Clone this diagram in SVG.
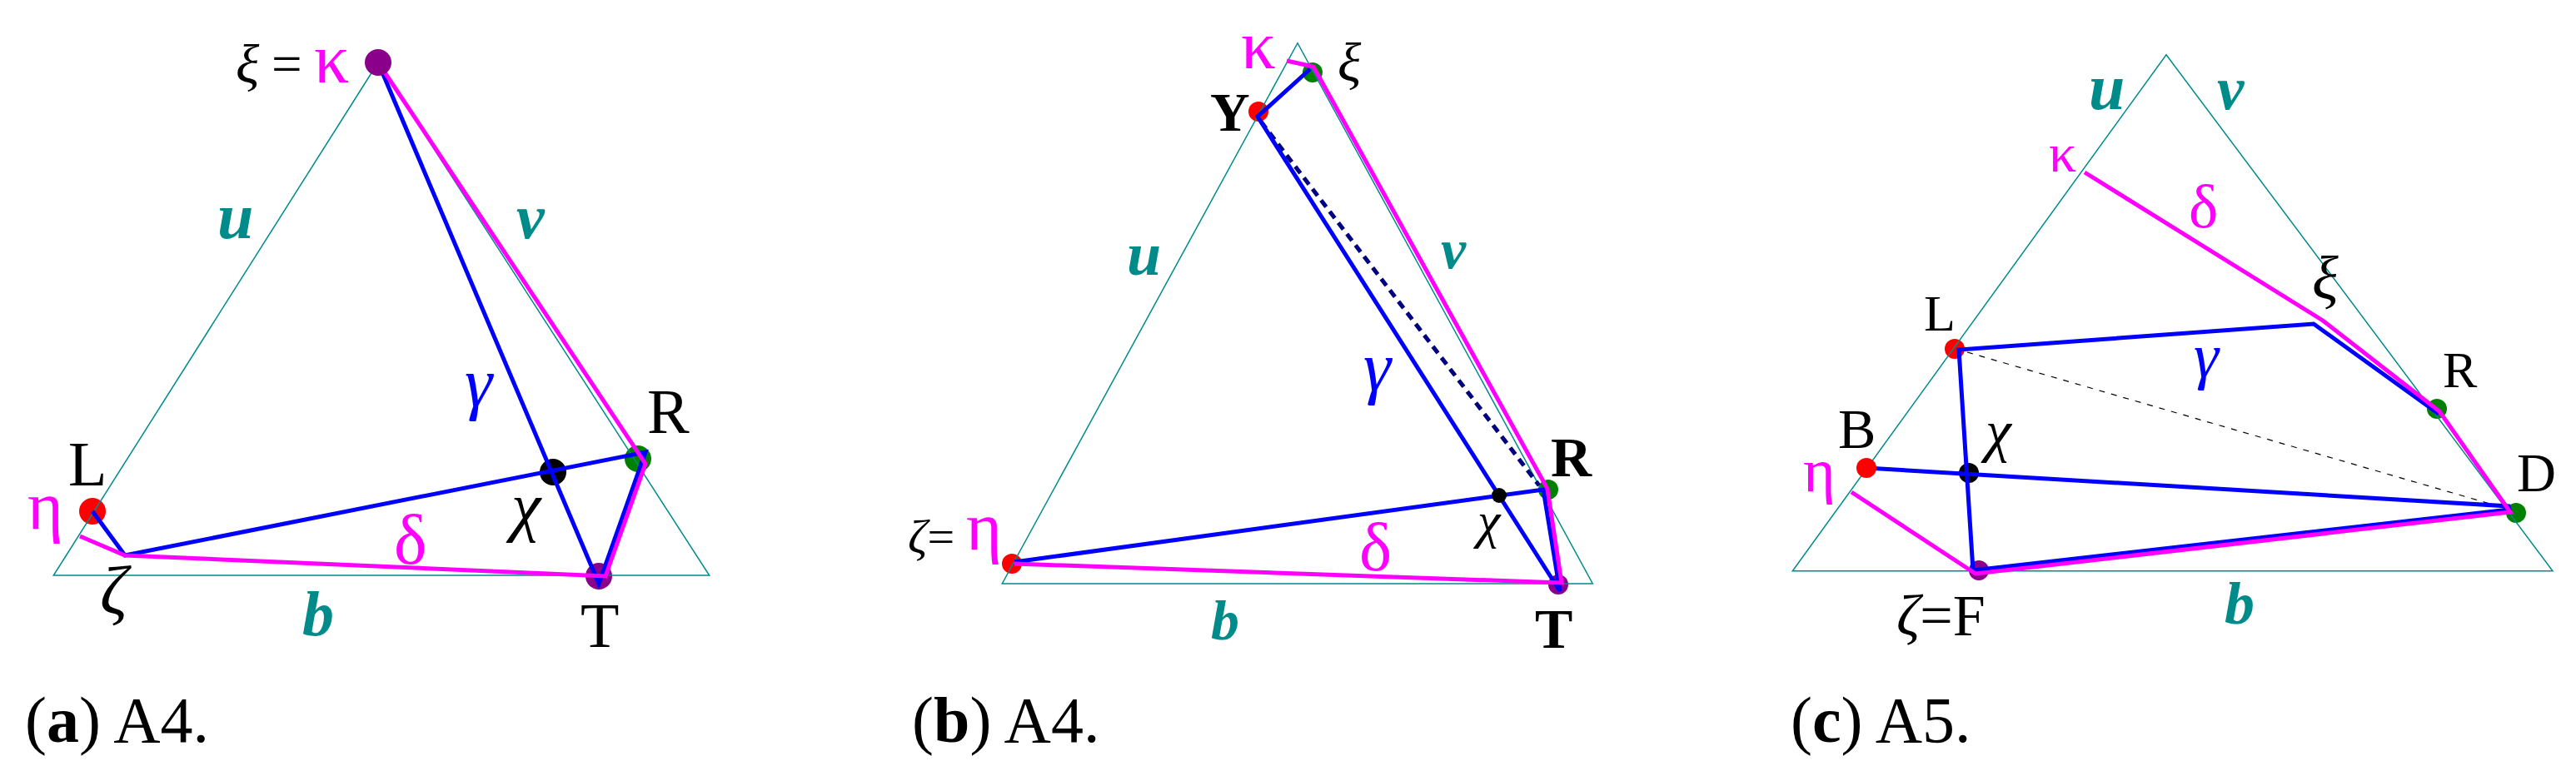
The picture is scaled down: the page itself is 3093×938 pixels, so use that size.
<svg xmlns="http://www.w3.org/2000/svg" width="3093" height="938" viewBox="0 0 3093 938">
<style>
text{font-family:"Liberation Serif","Times New Roman",serif;}
.tri{fill:none;stroke:#008B8B;stroke-width:1.5;stroke-linejoin:miter}
.bl{fill:none;stroke:#0000FF;stroke-width:5;stroke-linejoin:miter}
.pk{fill:none;stroke:#FF00FF;stroke-width:5;stroke-linejoin:miter}
.nv{fill:none;stroke:#000080;stroke-width:5;stroke-dasharray:10 7}
.dk{fill:none;stroke:#000000;stroke-width:1.2;stroke-dasharray:7 8}
.k{fill:#000000}
.m{fill:#FF00FF}
.b{fill:#0000FF}
.i{font-style:italic}
.t{fill:#008B8B;font-weight:bold;font-style:italic}
.bd{font-weight:bold}
.red{fill:#FF0000}.grn{fill:#008000}.pur{fill:#8B008B}.blk{fill:#000000}
</style>

<!-- Panel (a) -->
<g id="panel-a">
  <g id="a-dots-under">
    <circle id="a-L" class="red" cx="111" cy="614" r="16"/>
    <circle id="a-chi" class="blk" cx="664" cy="567" r="16"/>
    <circle id="a-R" class="grn" cx="766" cy="551" r="16"/>
    <circle id="a-T" class="pur" cx="719" cy="692" r="16"/>
  </g>
  <polygon id="a-triangle" class="tri" points="64.3,691 851.7,691 454,75"/>
  <g id="a-connectors">
    <polyline class="bl" points="454,75 719,701 775,543 150,667 111,614"/>
    <polyline class="pk" points="454,75 775,557 727,692 150,667 96,644"/>
  </g>
  <circle id="a-kappa" class="pur" cx="454" cy="75" r="16"/>
  <g id="a-labels">
    <text x="283" y="99" font-size="66" class="k i">ξ</text>
    <text x="326" y="99" font-size="65" class="k">=</text>
    <text x="377" y="99" font-size="84" class="m">κ</text>
    <text x="261" y="286" font-size="78" class="t">u</text>
    <text x="620" y="286" font-size="76" class="t">v</text>
    <text x="558" y="488" font-size="84" class="b i">γ</text>
    <text x="777" y="520" font-size="76" class="k">R</text>
    <text x="82" y="583" font-size="76" class="k">L</text>
    <text x="33" y="635" font-size="82" class="m">η</text>
    <text x="614" y="635" font-size="80" class="k i">χ</text>
    <text x="473" y="677" font-size="84" class="m">δ</text>
    <text x="120" y="737" font-size="82" class="k i">ζ</text>
    <text x="363" y="763" font-size="76" class="t">b</text>
    <text x="697" y="777" font-size="76" class="k">T</text>
  </g>
</g>

<!-- Panel (b) -->
<g id="panel-b">
  <g id="b-dots-under">
    <circle id="b-Y" class="red" cx="1511" cy="134" r="12"/>
    <circle id="b-xi" class="grn" cx="1576" cy="87" r="12"/>
    <circle id="b-R" class="grn" cx="1859" cy="588" r="12"/>
    <circle id="b-T" class="pur" cx="1871" cy="702" r="12"/>
    <circle id="b-zeta" class="red" cx="1215" cy="677" r="12"/>
  </g>
  <polygon id="b-triangle" class="tri" points="1203.3,701 1912.3,701 1558,51.7"/>
  <g id="b-connectors">
    <line class="nv" x1="1514" y1="146" x2="1848" y2="583"/>
    <polyline class="bl" points="1573,83 1510,140 1873,710 1853,588 1218,675"/>
    <polyline class="pk" points="1545,73 1577,80 1858,587 1875,700 1218,677"/>
  </g>
  <circle id="b-chi" class="blk" cx="1800" cy="595" r="9"/>
  <g id="b-labels">
    <text x="1490" y="82" font-size="83" class="m">κ</text>
    <text x="1606" y="97" font-size="66" class="k i">ξ</text>
    <text x="1453" y="157" font-size="66" class="k bd">Y</text>
    <text x="1353" y="330" font-size="74" class="t">u</text>
    <text x="1730" y="322" font-size="68" class="t">v</text>
    <text x="1637" y="469" font-size="84" class="b i">γ</text>
    <text x="1862" y="572" font-size="68" class="k bd">R</text>
    <text x="1774" y="646" font-size="62" class="k i">χ</text>
    <text x="1632" y="685" font-size="83" class="m">δ</text>
    <text x="1843" y="778" font-size="68" class="k bd">T</text>
    <text x="1090" y="664" font-size="58" class="k"><tspan class="i">ζ</tspan>=</text>
    <text x="1160" y="660" font-size="82" class="m">η</text>
    <text x="1454" y="768" font-size="68" class="t">b</text>
  </g>
</g>

<!-- Panel (c) -->
<g id="panel-c">
  <g id="c-dots-under">
    <circle id="c-L" class="red" cx="2347" cy="419" r="12"/>
    <circle id="c-chi" class="blk" cx="2364" cy="568" r="12"/>
    <circle id="c-F" class="pur" cx="2376" cy="685" r="12"/>
    <circle id="c-R" class="grn" cx="2926" cy="491" r="12"/>
    <circle id="c-D" class="grn" cx="3021" cy="616" r="12"/>
  </g>
  <polygon id="c-triangle" class="tri" points="2152.3,685.7 3065,685.7 2601,65.7"/>
  <g id="c-connectors">
    <line class="dk" x1="2362" y1="423" x2="3000" y2="608"/>
    <polyline class="bl" points="2241,562 3012,608 3013,612 2369,685 2352,420 2778,389 2928,497"/>
    <polyline class="pk" points="2503,207 2789,385 2929,494 3014,615 2372,689 2223,591"/>
  </g>
  <circle id="c-B" class="red" cx="2241" cy="562" r="12"/>
  <g id="c-labels">
    <text x="2508" y="131" font-size="78" class="t">u</text>
    <text x="2662" y="131" font-size="73" class="t">v</text>
    <text x="2460" y="206" font-size="66" class="m">κ</text>
    <text x="2628" y="273" font-size="75" class="m">δ</text>
    <text x="2776" y="359" font-size="74" class="k i">ξ</text>
    <text x="2310" y="397" font-size="62" class="k">L</text>
    <text x="2634" y="453" font-size="76" class="b i">γ</text>
    <text x="2933" y="465" font-size="62" class="k">R</text>
    <text x="2207" y="538" font-size="68" class="k">B</text>
    <text x="2384" y="541" font-size="70" class="k i">χ</text>
    <text x="2165" y="590" font-size="74" class="m">η</text>
    <text x="3022" y="590" font-size="65" class="k">D</text>
    <text x="2277" y="763" font-size="70" class="k"><tspan class="i">ζ</tspan>=F</text>
    <text x="2671" y="749" font-size="72" class="t">b</text>
  </g>
</g>

<!-- Captions -->
<g id="captions">
  <text x="30" y="891" font-size="78" class="k">(<tspan class="bd">a</tspan>) A4.</text>
  <text x="1095" y="891" font-size="78" class="k">(<tspan class="bd">b</tspan>) A4.</text>
  <text x="2150" y="891" font-size="78" class="k">(<tspan class="bd">c</tspan>) A5.</text>
</g>
</svg>
